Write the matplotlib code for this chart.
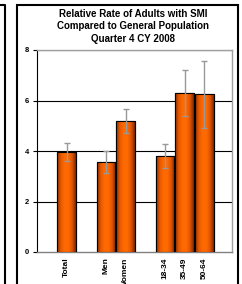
import numpy as np
import matplotlib
matplotlib.use("Agg")
from matplotlib import pyplot as plt
from matplotlib.colors import LinearSegmentedColormap
from matplotlib.patches import Rectangle
from matplotlib.lines import Line2D

plt.rcParams["font.family"] = ["Liberation Sans", "DejaVu Sans"]

# Chart data
categories = ["Total", "Men", "Women", "18-34", "35-49", "50-64"]
slots = [0, 2, 3, 5, 6, 7]  # gaps between groups
rates = [3.95, 3.56, 5.19, 3.80, 6.30, 6.24]
errors = [0.35, 0.44, 0.48, 0.49, 0.91, 1.33]
yticks = [0, 2, 4, 6, 8]
title = "Relative Rate of Adults with SMI\nCompared to General Population\nQuarter 4 CY 2008"

fig = plt.figure(figsize=(2.42, 2.84), dpi=100)
ax = fig.add_axes([37 / 242, 1 - 252 / 284, 195 / 242, 202 / 284])

# bars with a horizontal dark-orange-dark gradient
cmap = LinearSegmentedColormap.from_list(
    "orange", ["#8a2e00", "#e85a00", "#ff6a00", "#ff6a00", "#e05400", "#7a2800"]
)
grad = np.linspace(0, 1, 64)[None, :]
width = 0.95
bars = ax.bar(slots, rates, width=width, color="#ff6600", edgecolor="black",
              linewidth=0.8, zorder=3)
for b in bars:
    x0, y0 = b.get_x(), b.get_y()
    im = ax.imshow(grad, cmap=cmap, aspect="auto", zorder=3.5,
                   extent=[x0, x0 + b.get_width(), y0, y0 + b.get_height()])
    im.set_clip_path(b)
    edge = Rectangle((x0, y0), b.get_width(), b.get_height(), fill=False,
                     edgecolor="black", linewidth=0.8, zorder=4)
    ax.add_patch(edge)

ax.errorbar(slots, rates, yerr=errors, fmt="none", ecolor="#999999",
            elinewidth=1.0, capsize=2.5, capthick=1.0, zorder=5)

ax.set_xlim(-1.5, 8.4)
ax.set_ylim(0, 8)
ax.set_yticks(yticks)
ax.set_yticklabels([str(v) for v in yticks], fontsize=5.5, fontweight="bold")
ax.set_xticks(slots)
ax.set_xticklabels(categories, rotation=90, fontsize=6, fontweight="bold")
ax.tick_params(axis="x", length=0, pad=4)
ax.tick_params(axis="y", length=3, width=0.8, pad=3, direction="out")
for v in yticks[1:]:
    ax.axhline(v, color="black", linewidth=0.8, zorder=1)

ax.spines["left"].set_color("black")
ax.spines["left"].set_linewidth(0.8)
for s in ["top", "right", "bottom"]:
    ax.spines[s].set_color("#a0a0a0")
    ax.spines[s].set_linewidth(1.0)
ax.spines["bottom"].set_color("#808080")

fig.text(133 / 242, 1 - 9 / 284, title, ha="center", va="top", fontsize=7,
         fontweight="bold", linespacing=1.3)

# chart frames
fig.add_artist(Rectangle((17 / 242, -0.1), 221 / 242, 1.1 - 5 / 284,
                         transform=fig.transFigure, fill=False,
                         edgecolor="black", linewidth=1.5))
fig.add_artist(Line2D([0, 5 / 242, 5 / 242], [1 - 5 / 284, 1 - 5 / 284, 0],
                      transform=fig.transFigure, color="black", linewidth=1.5))

fig.savefig("out.png", dpi=100)
